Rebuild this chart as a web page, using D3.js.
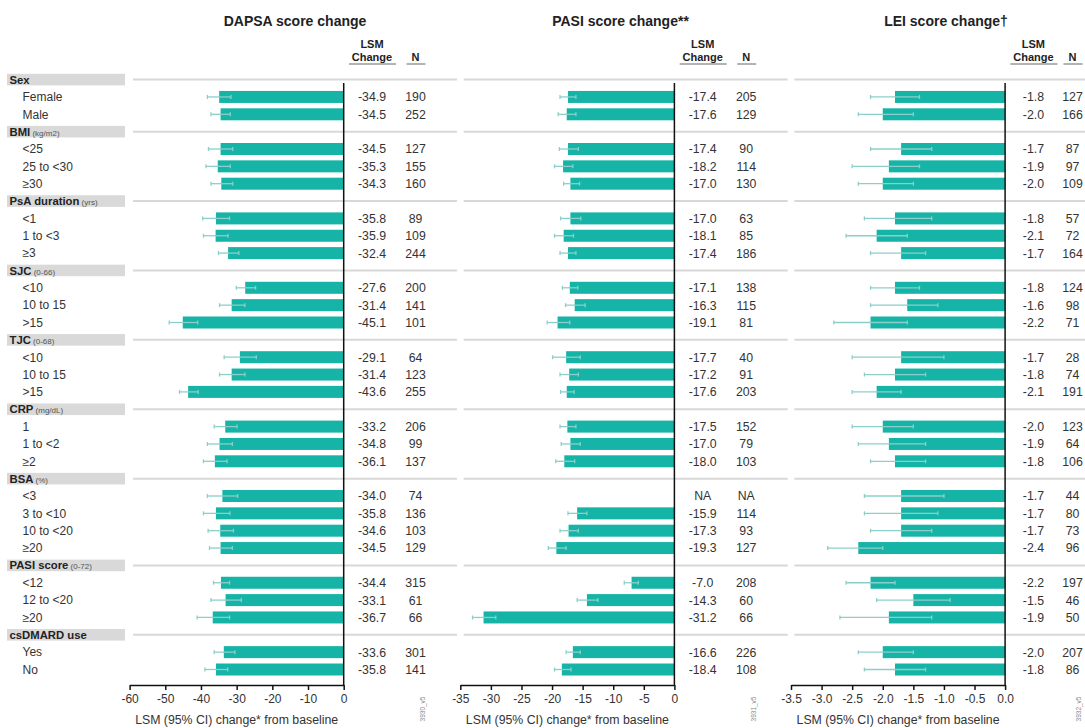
<!DOCTYPE html>
<html>
<head>
<meta charset="utf-8">
<script src="https://cdn.jsdelivr.net/npm/d3@7"></script>
<style>
  body { margin: 0; background: #fff; }
  svg { display: block; font-family: "Liberation Sans", Arial, sans-serif; }
</style>
</head>
<body>
<svg id="chart" width="1085" height="728"></svg>
<script>
// ---------------- DATA ----------------
const groupNames = ["Sex", "BMI", "PsA duration", "SJC", "TJC", "CRP", "BSA", "PASI score", "csDMARD use"];
const groupUnits = ["", "(kg/m2)", "(yrs)", "(0-66)", "(0-68)", "(mg/dL)", "(%)", "(0-72)", ""];
const subgroups = [
  ["Female", "Male"],
  ["<25", "25 to <30", "≥30"],
  ["<1", "1 to <3", "≥3"],
  ["<10", "10 to 15", ">15"],
  ["<10", "10 to 15", ">15"],
  ["1", "1 to <2", "≥2"],
  ["<3", "3 to <10", "10 to <20", "≥20"],
  ["<12", "12 to <20", "≥20"],
  ["Yes", "No"]
];

const panelTitles = ["DAPSA score change", "PASI score change**", "LEI score change†"];
const panelDomains = [[-60, 0], [-35, 0], [-3.5, 0]];
const dapsaTicks = [-60, -50, -40, -30, -20, -10, 0];
const pasiTicks = [-35, -30, -25, -20, -15, -10, -5, 0];
const leiTicks = [-3.5, -3.0, -2.5, -2.0, -1.5, -1.0, -0.5, 0.0];
const axisTitle = "LSM (95% CI) change* from baseline";
const docCodes = ["3930_v5", "3931_v5", "3932_v5"];

// DAPSA
const dapsaLSM  = [-34.9, -34.5, -34.5, -35.3, -34.3, -35.8, -35.9, -32.4, -27.6, -31.4, -45.1, -29.1, -31.4, -43.6, -33.2, -34.8, -36.1, -34.0, -35.8, -34.6, -34.5, -34.4, -33.1, -36.7, -33.6, -35.8];
const dapsaLow  = [-38.2, -37.2, -37.9, -38.6, -37.2, -39.5, -39.3, -35.1, -30.1, -34.8, -48.9, -33.5, -34.8, -46.0, -36.3, -38.2, -39.3, -38.2, -39.3, -38.0, -37.6, -36.5, -37.2, -41.1, -36.3, -38.9];
const dapsaHigh = [-31.6, -31.8, -31.1, -31.8, -31.1, -32.0, -32.4, -29.4, -24.7, -27.7, -40.9, -24.5, -27.7, -40.8, -29.9, -31.2, -32.7, -29.7, -31.9, -30.9, -31.2, -32.0, -28.7, -32.0, -30.5, -32.5];
const dapsaN    = [190, 252, 127, 155, 160, 89, 109, 244, 200, 141, 101, 64, 123, 255, 206, 99, 137, 74, 136, 103, 129, 315, 61, 66, 301, 141];

// PASI (null = NA)
const pasiLSM  = [-17.4, -17.6, -17.4, -18.2, -17.0, -17.0, -18.1, -17.4, -17.1, -16.3, -19.1, -17.7, -17.2, -17.6, -17.5, -17.0, -18.0, null, -15.9, -17.3, -19.3, -7.0, -14.3, -31.2, -16.6, -18.4];
const pasiLow  = [-18.7, -19.0, -18.8, -19.6, -18.1, -18.6, -19.6, -18.7, -18.3, -17.8, -20.8, -19.9, -18.7, -18.6, -18.7, -18.5, -19.4, null, -17.4, -18.7, -20.6, -8.2, -15.9, -33.0, -17.7, -19.6];
const pasiHigh = [-16.1, -16.1, -15.7, -16.6, -15.5, -15.3, -16.5, -16.1, -15.8, -14.6, -17.1, -15.4, -15.7, -16.4, -16.1, -15.4, -16.3, null, -14.3, -15.7, -17.7, -5.9, -12.5, -29.2, -15.4, -16.9];
const pasiN    = [205, 129, 90, 114, 130, 63, 85, 186, 138, 115, 81, 40, 91, 203, 152, 79, 103, null, 114, 93, 127, 208, 60, 66, 226, 108];

// LEI
const leiLSM  = [-1.8, -2.0, -1.7, -1.9, -2.0, -1.8, -2.1, -1.7, -1.8, -1.6, -2.2, -1.7, -1.8, -2.1, -2.0, -1.9, -1.8, -1.7, -1.7, -1.7, -2.4, -2.2, -1.5, -1.9, -2.0, -1.8];
const leiLow  = [-2.2, -2.4, -2.2, -2.5, -2.4, -2.3, -2.6, -2.2, -2.2, -2.2, -2.8, -2.5, -2.3, -2.5, -2.5, -2.4, -2.2, -2.3, -2.3, -2.2, -2.9, -2.6, -2.1, -2.7, -2.4, -2.3];
const leiHigh = [-1.4, -1.5, -1.2, -1.4, -1.5, -1.2, -1.6, -1.3, -1.4, -1.1, -1.6, -1.0, -1.3, -1.7, -1.5, -1.3, -1.3, -1.0, -1.1, -1.2, -2.0, -1.8, -0.9, -1.2, -1.5, -1.3];
const leiN    = [127, 166, 87, 97, 109, 57, 72, 164, 124, 98, 71, 28, 74, 191, 123, 64, 106, 44, 80, 73, 96, 197, 46, 50, 207, 86];

// ---------------- BUILD ROWS ----------------
const rows = [];
let k = 0;
groupNames.forEach((g, gi) => {
  rows.push({ id: "h" + gi, header: true, name: g, unit: groupUnits[gi] });
  subgroups[gi].forEach(s => {
    rows.push({ id: "r" + k, header: false, name: s, idx: k });
    k++;
  });
});

const panels = [
  { lsm: dapsaLSM, low: dapsaLow, high: dapsaHigh, n: dapsaN, ticks: dapsaTicks, fmt: d => String(d) },
  { lsm: pasiLSM, low: pasiLow, high: pasiHigh, n: pasiN, ticks: pasiTicks, fmt: d => String(d) },
  { lsm: leiLSM, low: leiLow, high: leiHigh, n: leiN, ticks: leiTicks, fmt: d => d.toFixed(1) }
];

// ---------------- LAYOUT ----------------
const svg = d3.select("#chart");
const BAR = "#16b4a6";
const ERR = "#8ccfca";
const GRID = "#d8d8d8";
const TXT = "#333";
const panelStep = 330.7;
const plotLeft0 = 129.6, plotRight0 = 343.7;
const axisY = 685;
const zeroTop = 83;

const y = d3.scalePoint().domain(rows.map(r => r.id)).range([79.6, 669.5]);

// Left label column
const lab = svg.append("g");
rows.forEach(r => {
  const cy = y(r.id);
  if (r.header) {
    lab.append("rect").attr("x", 7).attr("y", cy - 5.8).attr("width", 118).attr("height", 11.6).attr("fill", "#d9d9d9");
    const t = lab.append("text").attr("x", 9.5).attr("y", cy).attr("dy", "0.36em")
      .attr("font-size", 11.3).attr("font-weight", "bold").attr("fill", "#222").text(r.name);
    if (r.unit) {
      t.append("tspan").attr("font-size", 8).attr("font-weight", "normal").attr("fill", "#555").text(" " + r.unit);
    }
  } else {
    lab.append("text").attr("x", 22.5).attr("y", cy).attr("dy", "0.36em")
      .attr("font-size", 12).attr("fill", TXT).text(r.name);
  }
});

panels.forEach((p, pi) => {
  const off = pi * panelStep;
  const x = d3.scaleLinear().domain(panelDomains[pi]).range([plotLeft0 + off, plotRight0 + off]);
  const g = svg.append("g");

  // title
  g.append("text").attr("x", 295 + pi * 325.5).attr("y", 26).attr("text-anchor", "middle")
    .attr("font-size", 14).attr("font-weight", "bold").attr("fill", "#222").text(panelTitles[pi]);

  // column headers
  const cLSM = 372 + off;
  const cN = pi === 2 ? 1072.5 : 415.5 + off;
  g.append("text").attr("x", cLSM).attr("y", 48).attr("text-anchor", "middle")
    .attr("font-size", 11).attr("font-weight", "bold").attr("fill", "#222").text("LSM");
  g.append("text").attr("x", cLSM).attr("y", 60.5).attr("text-anchor", "middle")
    .attr("font-size", 11).attr("font-weight", "bold").attr("fill", "#222").text("Change");
  g.append("text").attr("x", cN).attr("y", 60.5).attr("text-anchor", "middle")
    .attr("font-size", 11).attr("font-weight", "bold").attr("fill", "#222").text("N");
  g.append("line").attr("x1", cLSM - 23).attr("x2", cLSM + 24).attr("y1", 64).attr("y2", 64).attr("stroke", "#666").attr("stroke-width", 1);
  g.append("line").attr("x1", cN - 9).attr("x2", cN + 10).attr("y1", 64).attr("y2", 64).attr("stroke", "#666").attr("stroke-width", 1);

  // group separator lines
  const sepX1 = 133 + off, sepX2 = Math.min(457 + off, 1085);
  rows.filter(r => r.header).forEach(r => {
    g.append("line").attr("x1", sepX1).attr("x2", sepX2).attr("y1", y(r.id)).attr("y2", y(r.id))
      .attr("stroke", GRID).attr("stroke-width", 2);
  });

  const dataRows = rows.filter(r => !r.header && p.lsm[r.idx] !== null);

  // bars
  g.selectAll("rect.bar").data(dataRows).enter().append("rect")
    .attr("class", "bar")
    .attr("x", r => x(p.lsm[r.idx]))
    .attr("width", r => x(0) - x(p.lsm[r.idx]))
    .attr("y", r => y(r.id) - 6)
    .attr("height", 12)
    .attr("fill", BAR);

  // error bars
  const eb = g.selectAll("g.err").data(dataRows).enter().append("g").attr("class", "err")
    .attr("stroke", ERR).attr("stroke-width", 1.3);
  eb.append("line").attr("x1", r => x(p.low[r.idx])).attr("x2", r => x(p.high[r.idx]))
    .attr("y1", r => y(r.id)).attr("y2", r => y(r.id));
  eb.append("line").attr("x1", r => x(p.low[r.idx])).attr("x2", r => x(p.low[r.idx]))
    .attr("y1", r => y(r.id) - 2).attr("y2", r => y(r.id) + 2);
  eb.append("line").attr("x1", r => x(p.high[r.idx])).attr("x2", r => x(p.high[r.idx]))
    .attr("y1", r => y(r.id) - 2).attr("y2", r => y(r.id) + 2);

  // zero line
  g.append("line").attr("x1", x(0)).attr("x2", x(0)).attr("y1", zeroTop).attr("y2", axisY)
    .attr("stroke", "#111").attr("stroke-width", 1.5);

  // axis
  const ax = g.append("g").attr("transform", `translate(0,${axisY})`)
    .call(d3.axisBottom(x).tickValues(p.ticks).tickFormat(p.fmt).tickSize(5).tickSizeOuter(0));
  ax.select(".domain").attr("stroke", "#111").attr("stroke-width", 1.5);
  ax.selectAll(".tick line").attr("stroke", "#111").attr("stroke-width", 1.5);
  ax.selectAll(".tick text").attr("font-size", 12).attr("fill", TXT).attr("y", 9)
    .attr("font-family", "Liberation Sans, Arial, sans-serif");

  g.append("text").attr("x", (x.range()[0] + x.range()[1]) / 2).attr("y", 724)
    .attr("text-anchor", "middle").attr("font-size", 12.3).attr("fill", TXT).text(axisTitle);

  // value columns
  rows.filter(r => !r.header).forEach(r => {
    const v = p.lsm[r.idx];
    const nn = p.n[r.idx];
    g.append("text").attr("x", cLSM).attr("y", y(r.id)).attr("dy", "0.36em").attr("text-anchor", "middle")
      .attr("font-size", 12.3).attr("fill", TXT).text(v === null ? "NA" : v.toFixed(1));
    g.append("text").attr("x", cN).attr("y", y(r.id)).attr("dy", "0.36em").attr("text-anchor", "middle")
      .attr("font-size", 12.3).attr("fill", TXT).text(nn === null ? "NA" : nn);
  });

  // doc code
  const dx = pi === 2 ? 1079 : 423 + off, dy = 709;
  g.append("text").attr("transform", `translate(${dx},${dy}) rotate(-90)`).attr("text-anchor", "middle")
    .attr("dy", "0.35em").attr("font-size", 6.5).attr("fill", "#888").text(docCodes[pi]);
});
</script>
</body>
</html>
